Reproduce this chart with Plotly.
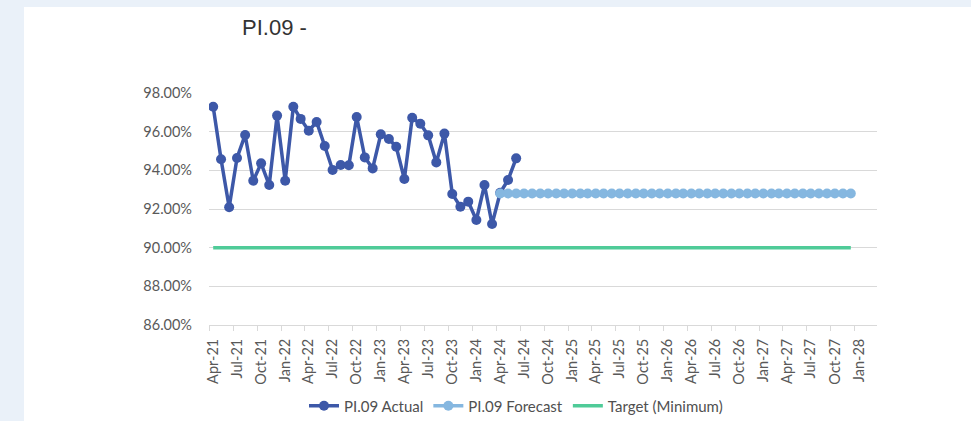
"""PI.09 actual vs forecast vs target, monthly line chart"""

import pandas as pd
import plotly.graph_objs as go

# monthly actuals, Apr-21 .. Jun-24 (%)
actual_values = [
    97.29, 94.57, 92.09, 94.64, 95.83, 93.46, 94.36, 93.24, 96.83,
    93.46, 97.29, 96.66, 96.05, 96.50, 95.26, 94.02, 94.28, 94.26,
    96.76, 94.67, 94.10, 95.86, 95.62, 95.22, 93.55, 96.72, 96.41,
    95.81, 94.41, 95.90, 92.78, 92.12, 92.38, 91.43, 93.24, 91.22,
    92.84, 93.50, 94.62,
]
actual_dates = pd.date_range("2021-04-01", periods=len(actual_values), freq="MS")

# forecast, Apr-24 .. Dec-27 (%)
forecast_values = [
    92.80, 92.80, 92.80, 92.80, 92.80, 92.80, 92.80, 92.80, 92.80,
    92.80, 92.80, 92.80, 92.80, 92.80, 92.80, 92.80, 92.80, 92.80,
    92.80, 92.80, 92.80, 92.80, 92.80, 92.80, 92.80, 92.80, 92.80,
    92.80, 92.80, 92.80, 92.80, 92.80, 92.80, 92.80, 92.80, 92.80,
    92.80, 92.80, 92.80, 92.80, 92.80, 92.80, 92.80, 92.80, 92.80,
]
forecast_dates = pd.date_range("2024-04-01", periods=len(forecast_values), freq="MS")

# target (minimum), Apr-21 .. Dec-27 (%)
target_values = [
    90.0, 90.0, 90.0, 90.0, 90.0, 90.0, 90.0, 90.0, 90.0,
    90.0, 90.0, 90.0, 90.0, 90.0, 90.0, 90.0, 90.0, 90.0,
    90.0, 90.0, 90.0, 90.0, 90.0, 90.0, 90.0, 90.0, 90.0,
    90.0, 90.0, 90.0, 90.0, 90.0, 90.0, 90.0, 90.0, 90.0,
    90.0, 90.0, 90.0, 90.0, 90.0, 90.0, 90.0, 90.0, 90.0,
    90.0, 90.0, 90.0, 90.0, 90.0, 90.0, 90.0, 90.0, 90.0,
    90.0, 90.0, 90.0, 90.0, 90.0, 90.0, 90.0, 90.0, 90.0,
    90.0, 90.0, 90.0, 90.0, 90.0, 90.0, 90.0, 90.0, 90.0,
    90.0, 90.0, 90.0, 90.0, 90.0, 90.0, 90.0, 90.0, 90.0,
]
target_dates = pd.date_range("2021-04-01", periods=len(target_values), freq="MS")

ACTUAL = "#3D58A8"
FORECAST = "#85B7E0"
TARGET = "#4FCB98"
GRID = "#D9D9D9"
TEXT = "#595959"
FONT = "Lato"

fig = go.Figure()
# target first so it sits underneath
fig.add_trace(go.Scatter(
    x=target_dates, y=target_values, name="Target (Minimum)", mode="lines",
    line=dict(color=TARGET, width=3.5), legendrank=3,
))
fig.add_trace(go.Scatter(
    x=actual_dates, y=actual_values, name="PI.09 Actual", mode="lines+markers",
    line=dict(color=ACTUAL, width=3.5), marker=dict(size=10, color=ACTUAL), legendrank=1,
))
fig.add_trace(go.Scatter(
    x=forecast_dates, y=forecast_values, name="PI.09 Forecast", mode="lines+markers",
    line=dict(color=FORECAST, width=3.5), marker=dict(size=10, color=FORECAST), legendrank=2,
))

# page frame: light blue strip top/left, white panel
L, R, T, B = 209, 94, 93, 96
W, H = 971, 421
pw, ph = W - L - R, H - T - B
fig.add_shape(
    type="rect", xref="paper", yref="paper", layer="below",
    x0=(24 - L) / pw, x1=(W - L) / pw + 0.1,
    y0=-(B + 10) / ph, y1=(H - 7 - B) / ph,
    fillcolor="white", line=dict(width=0),
)

fig.update_layout(
    width=W, height=H,
    margin=dict(l=L, r=R, t=T, b=B, pad=0, autoexpand=False),
    paper_bgcolor="#EAF1F9", plot_bgcolor="white",
    font=dict(family=FONT, size=14, color=TEXT),
    title=dict(
        text="PI.09 -", x=242 / W, xanchor="left", xref="container",
        y=1 - 27 / H, yanchor="middle", yref="container",
        font=dict(family="Liberation Sans", size=22, color="#333333"),
    ),
    legend=dict(
        orientation="h", x=516 / W, xanchor="center", xref="container",
        y=1 - 406 / H, yanchor="middle", yref="container",
        font=dict(size=15, color="#505050"), itemwidth=30,
        bgcolor="rgba(0,0,0,0)",
    ),
    showlegend=True,
)
fig.update_xaxes(
    type="date", range=["2021-03-16", "2028-03-10"],
    tick0="2021-04-01", dtick="M3", tickformat="%b-%y", tickangle=-90,
    ticks="", showgrid=False, showline=True, linecolor=GRID, linewidth=1,
    minor=dict(ticks="outside", ticklen=5, tickcolor=GRID, tick0="2021-03-16", dtick="M3", showgrid=False),
    tickfont=dict(size=14.5, color=TEXT), ticklabelstandoff=7,
)
fig.update_yaxes(
    range=[86, 98], dtick=2, tickformat=".2f", ticksuffix="%",
    showgrid=True, gridcolor=GRID, gridwidth=1, zeroline=False, showline=False,
    ticks="", tickfont=dict(size=14.5, color=TEXT), ticklabelstandoff=16,
)

fig.write_html(
    "out.html",
    config={"displayModeBar": False},
    post_script="document.body.style.margin='0';",
)
